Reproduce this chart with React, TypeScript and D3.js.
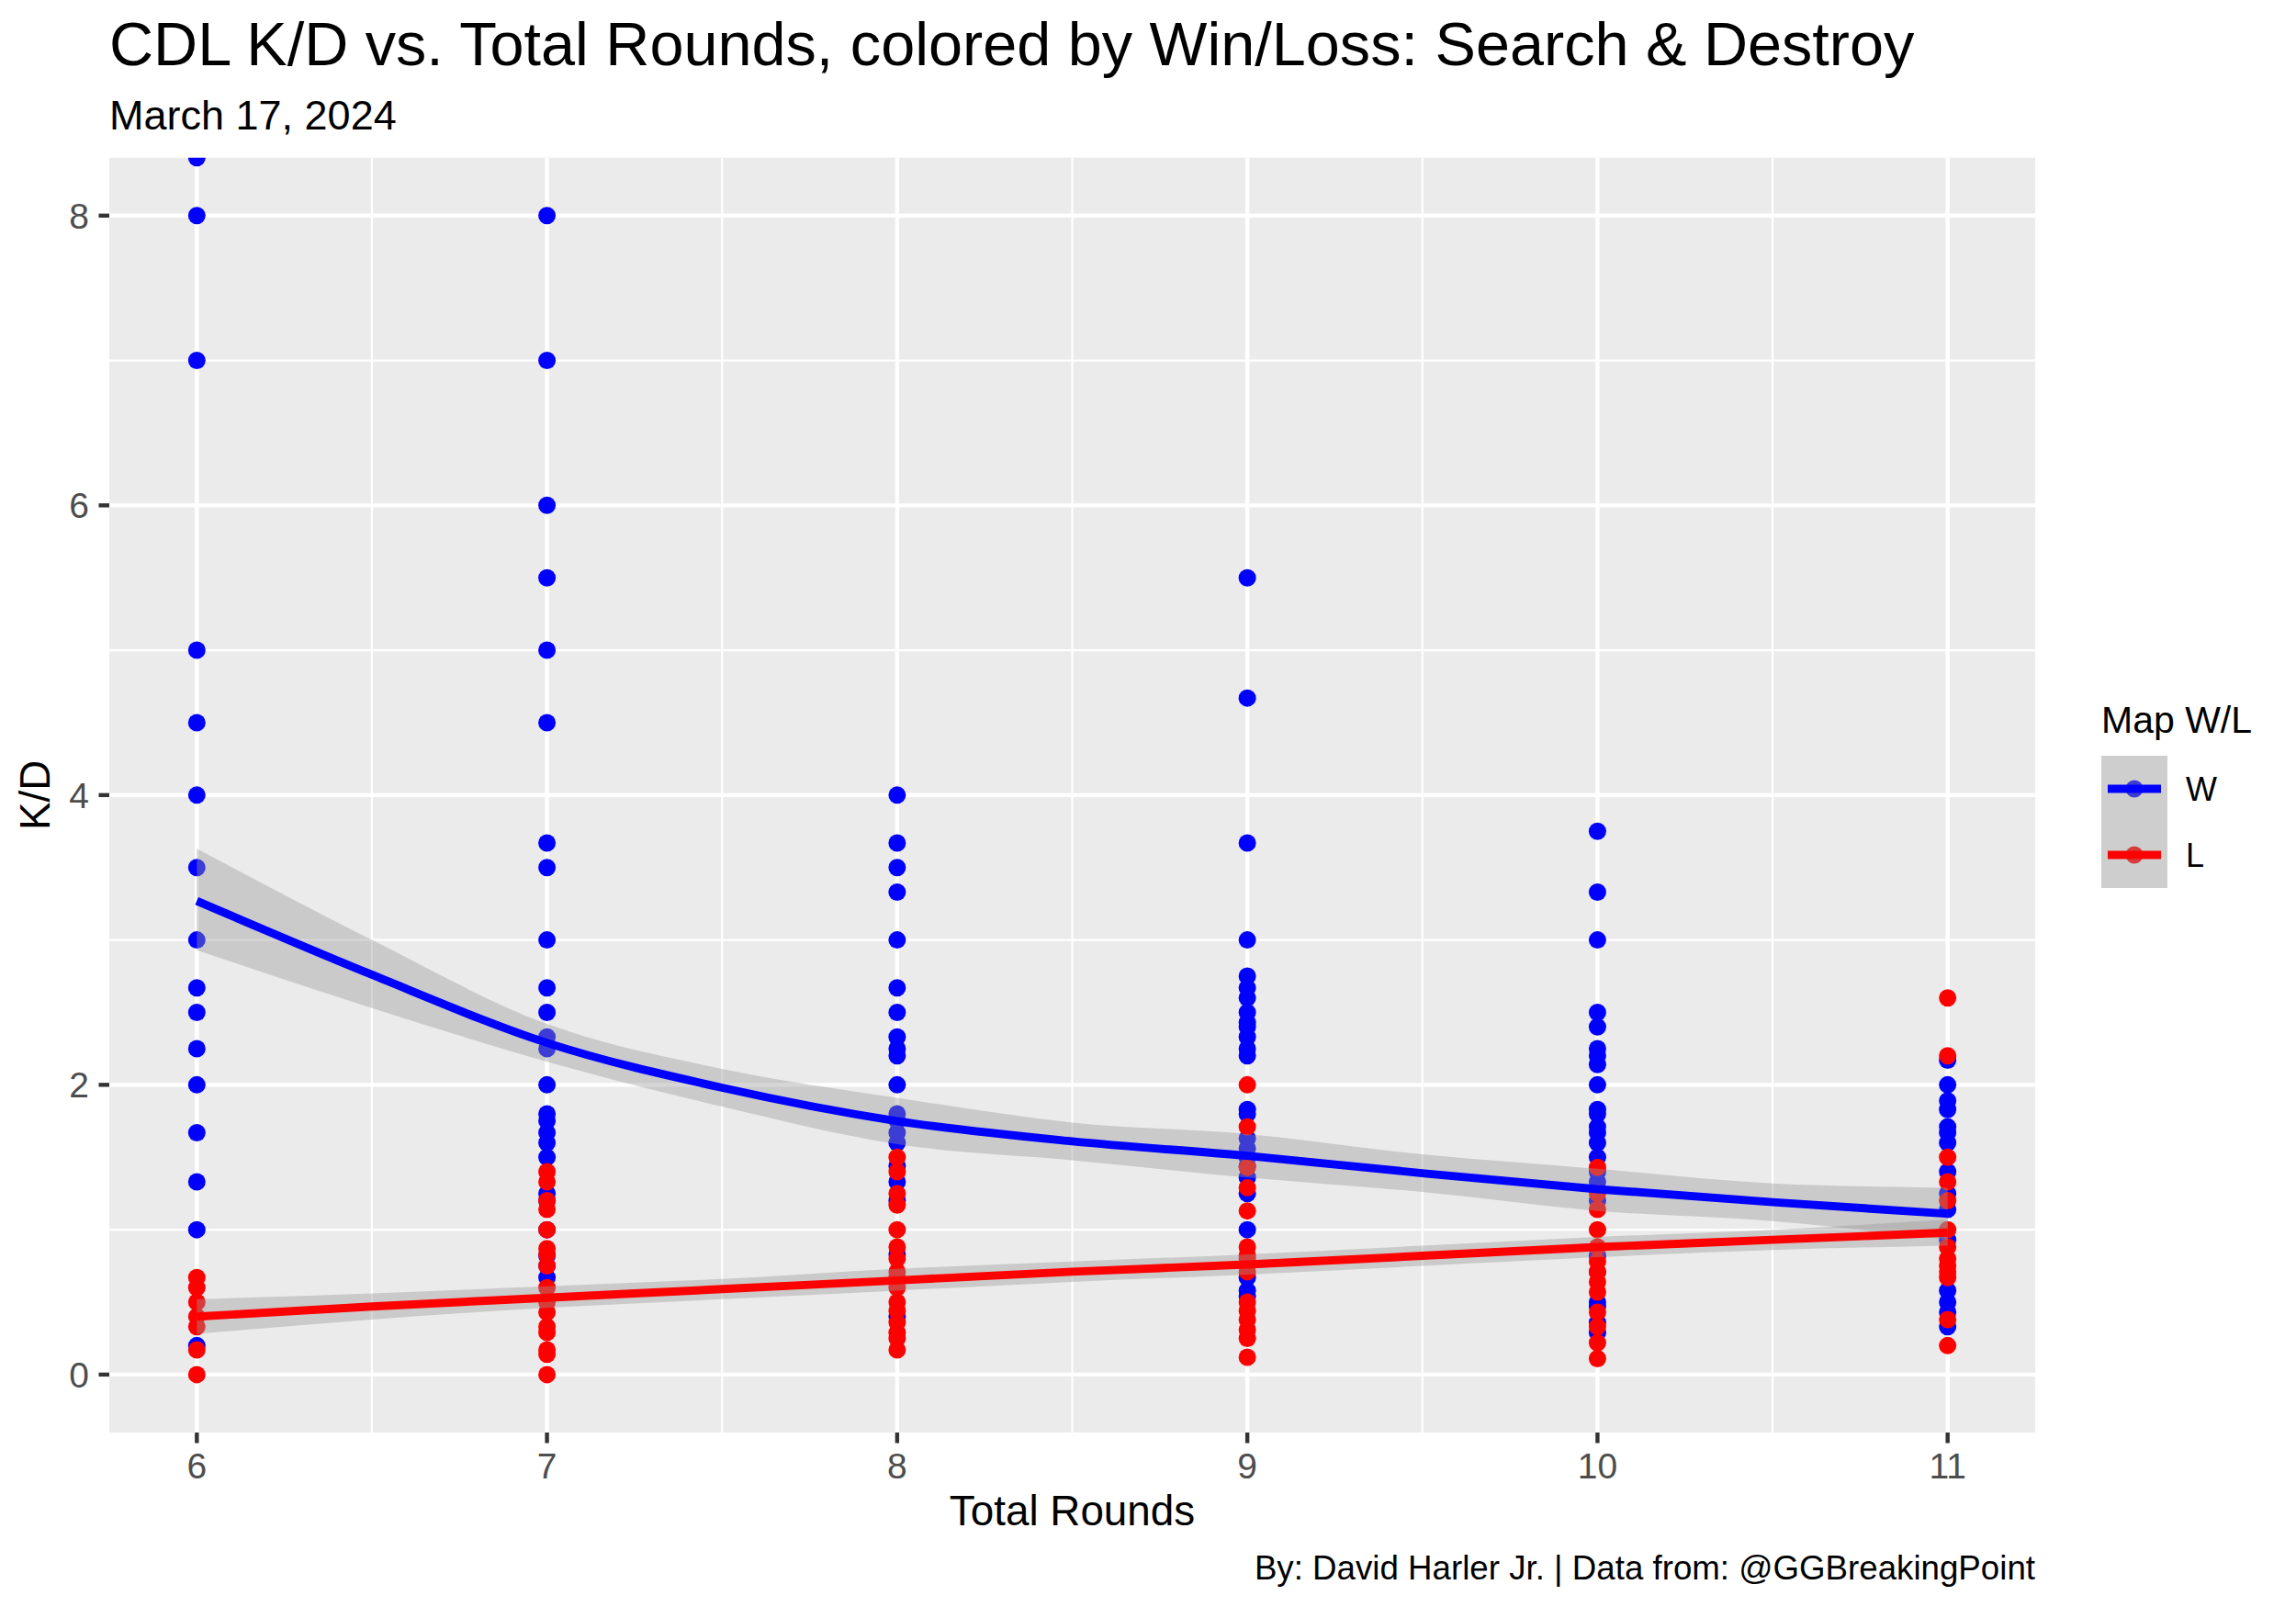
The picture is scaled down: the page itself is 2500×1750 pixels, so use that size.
import React from "react";
import * as d3 from "d3";

// ---------- DATA ----------
const ROUNDS = [6, 7, 8, 9, 10, 11];
const SERIES = ["W", "L"];
const SERIES_COLORS = ["#0000FF", "#FF0000"];

// K/D values of winning maps, per total-rounds column
const WIN_KD_6 = [8.4, 8, 7, 5, 4.5, 4, 3.5, 3, 2.67, 2.5, 2.25, 2, 1.67, 1.33, 1, 0.2];
const WIN_KD_7 = [8, 7, 6, 5.5, 5, 4.5, 3.67, 3.5, 3, 2.67, 2.5, 2.33, 2.25, 2, 1.8, 1.75, 1.67, 1.6, 1.5, 1.25, 1.2, 1.0, 0.82, 0.75, 0.67];
const WIN_KD_8 = [4, 3.67, 3.5, 3.33, 3, 2.67, 2.5, 2.33, 2.25, 2.2, 2, 1.8, 1.75, 1.67, 1.6, 1.44, 1.33, 1.2, 0.83, 0.4];
const WIN_KD_9 = [5.5, 4.67, 3.67, 3, 2.75, 2.67, 2.6, 2.5, 2.43, 2.4, 2.33, 2.25, 2.2, 1.83, 1.8, 1.63, 1.56, 1.5, 1.44, 1.36, 1.25, 1.0, 0.67, 0.58, 0.54];
const WIN_KD_10 = [3.75, 3.33, 3, 2.5, 2.4, 2.25, 2.2, 2.14, 2, 1.83, 1.8, 1.71, 1.67, 1.6, 1.5, 1.4, 1.33, 1.2, 0.82, 0.71, 0.5, 0.47, 0.36, 0.29];
const WIN_KD_11 = [2.17, 2, 1.89, 1.83, 1.71, 1.67, 1.6, 1.4, 1.25, 1.14, 0.93, 0.58, 0.5, 0.43, 0.33];

// K/D values of losing maps, per total-rounds column
const LOSS_KD_6 = [0.67, 0.6, 0.5, 0.4, 0.33, 0.17, 0];
const LOSS_KD_7 = [1.4, 1.33, 1.2, 1.14, 1.0, 0.87, 0.83, 0.75, 0.6, 0.5, 0.43, 0.33, 0.29, 0.17, 0.14, 0];
const LOSS_KD_8 = [1.5, 1.4, 1.25, 1.17, 1.0, 0.88, 0.8, 0.71, 0.67, 0.6, 0.5, 0.44, 0.36, 0.29, 0.25, 0.17];
const LOSS_KD_9 = [2, 1.71, 1.43, 1.29, 1.13, 0.88, 0.82, 0.8, 0.75, 0.71, 0.5, 0.44, 0.38, 0.31, 0.25, 0.12];
const LOSS_KD_10 = [1.43, 1.25, 1.14, 1.0, 0.88, 0.78, 0.71, 0.64, 0.57, 0.43, 0.33, 0.22, 0.11];
const LOSS_KD_11 = [2.6, 2.2, 1.5, 1.33, 1.2, 1.0, 0.88, 0.8, 0.75, 0.71, 0.67, 0.38, 0.2];

const WIN_KD = [WIN_KD_6, WIN_KD_7, WIN_KD_8, WIN_KD_9, WIN_KD_10, WIN_KD_11];
const LOSS_KD = [LOSS_KD_6, LOSS_KD_7, LOSS_KD_8, LOSS_KD_9, LOSS_KD_10, LOSS_KD_11];

// Smoothed fits (loess)
const FIT_X = [6, 6.5, 7, 7.5, 8, 8.5, 9, 9.5, 10, 10.5, 11];
const WIN_FIT = [3.27, 2.76, 2.29, 1.98, 1.75, 1.61, 1.51, 1.39, 1.28, 1.19, 1.11];
const WIN_UPPER = [3.63, 3.0, 2.42, 2.11, 1.91, 1.74, 1.66, 1.52, 1.42, 1.32, 1.29];
const WIN_LOWER = [2.93, 2.53, 2.16, 1.85, 1.59, 1.48, 1.36, 1.26, 1.13, 1.06, 0.93];
const LOSS_FIT = [0.4, 0.47, 0.53, 0.59, 0.65, 0.71, 0.76, 0.82, 0.88, 0.93, 0.98];
const LOSS_UPPER = [0.52, 0.56, 0.61, 0.66, 0.73, 0.78, 0.83, 0.89, 0.95, 1.0, 1.07];
const LOSS_LOWER = [0.28, 0.38, 0.46, 0.52, 0.58, 0.64, 0.69, 0.75, 0.81, 0.86, 0.89];

const X_TICKS = [6, 7, 8, 9, 10, 11];
const X_MINOR = [6.5, 7.5, 8.5, 9.5, 10.5];
const Y_TICKS = [0, 2, 4, 6, 8];
const Y_MINOR = [1, 3, 5, 7];

const TITLE = "CDL K/D vs. Total Rounds, colored by Win/Loss: Search & Destroy";
const SUBTITLE = "March 17, 2024";
const CAPTION = "By: David Harler Jr. | Data from: @GGBreakingPoint";
const X_TITLE = "Total Rounds";
const Y_TITLE = "K/D";
const LEGEND_TITLE = "Map W/L";

// ---------- LAYOUT ----------
const W = 2500;
const H = 1750;
const P = { left: 119, right: 2216, top: 171.7, bottom: 1560 };
const FONT = "'Liberation Sans', Arial, Helvetica, sans-serif";

export default function App() {
  const x = d3.scaleLinear().domain([5.75, 11.25]).range([P.left, P.right]);
  const y = d3.scaleLinear().domain([-0.4, 8.4]).range([P.bottom, P.top]);

  const fits = [
    { fit: WIN_FIT, up: WIN_UPPER, lo: WIN_LOWER, color: SERIES_COLORS[0] },
    { fit: LOSS_FIT, up: LOSS_UPPER, lo: LOSS_LOWER, color: SERIES_COLORS[1] },
  ];
  const idx = FIT_X.map((_, i) => i);
  const lineGen = (vals: number[]) =>
    d3
      .line<number>()
      .x((i) => x(FIT_X[i]))
      .y((i) => y(vals[i]))
      .curve(d3.curveMonotoneX)(idx) || "";
  const areaGen = (lo: number[], up: number[]) =>
    d3
      .area<number>()
      .x((i) => x(FIT_X[i]))
      .y0((i) => y(lo[i]))
      .y1((i) => y(up[i]))
      .curve(d3.curveMonotoneX)(idx) || "";

  const pointSets = [
    { data: WIN_KD, color: SERIES_COLORS[0] },
    { data: LOSS_KD, color: SERIES_COLORS[1] },
  ];

  const keyX = 2288;
  const keyY0 = 823;
  const keySize = 72;

  return (
    <svg
      width={W}
      height={H}
      style={{ position: "absolute", left: 0, top: 0 }}
      fontFamily={FONT}
    >
      <rect x={0} y={0} width={W} height={H} fill="#FFFFFF" />
      <defs>
        <clipPath id="panelClip">
          <rect x={P.left} y={P.top} width={P.right - P.left} height={P.bottom - P.top} />
        </clipPath>
      </defs>

      {/* Panel */}
      <rect x={P.left} y={P.top} width={P.right - P.left} height={P.bottom - P.top} fill="#EBEBEB" />
      {Y_MINOR.map((v) => (
        <line key={"ym" + v} x1={P.left} x2={P.right} y1={y(v)} y2={y(v)} stroke="#FFFFFF" strokeWidth={2.2} />
      ))}
      {X_MINOR.map((v) => (
        <line key={"xm" + v} x1={x(v)} x2={x(v)} y1={P.top} y2={P.bottom} stroke="#FFFFFF" strokeWidth={2.2} />
      ))}
      {Y_TICKS.map((v) => (
        <line key={"yM" + v} x1={P.left} x2={P.right} y1={y(v)} y2={y(v)} stroke="#FFFFFF" strokeWidth={4.4} />
      ))}
      {X_TICKS.map((v) => (
        <line key={"xM" + v} x1={x(v)} x2={x(v)} y1={P.top} y2={P.bottom} stroke="#FFFFFF" strokeWidth={4.4} />
      ))}

      <g clipPath="url(#panelClip)">
        {pointSets.map((s, si) =>
          s.data.map((col, ci) =>
            col.map((v, vi) => (
              <circle key={`p${si}-${ci}-${vi}`} cx={x(ROUNDS[ci])} cy={y(v)} r={9.5} fill={s.color} />
            ))
          )
        )}
        {fits.map((f, i) => (
          <path key={"rb" + i} d={areaGen(f.lo, f.up)} fill="#999999" fillOpacity={0.4} />
        ))}
        {fits.map((f, i) => (
          <path key={"ln" + i} d={lineGen(f.fit)} fill="none" stroke={f.color} strokeWidth={8.9} />
        ))}
      </g>

      {/* Axes */}
      {X_TICKS.map((v) => (
        <g key={"xt" + v}>
          <line x1={x(v)} x2={x(v)} y1={P.bottom} y2={P.bottom + 11.5} stroke="#333333" strokeWidth={4.4} />
          <text x={x(v)} y={1610} textAnchor="middle" fontSize={39} fill="#4D4D4D">
            {v}
          </text>
        </g>
      ))}
      {Y_TICKS.map((v) => (
        <g key={"yt" + v}>
          <line x1={P.left - 11.5} x2={P.left} y1={y(v)} y2={y(v)} stroke="#333333" strokeWidth={4.4} />
          <text x={97} y={y(v)} dy="0.36em" textAnchor="end" fontSize={39} fill="#4D4D4D">
            {v}
          </text>
        </g>
      ))}
      <text x={(P.left + P.right) / 2} y={1661} textAnchor="middle" fontSize={45.8} fill="#000000">
        {X_TITLE}
      </text>
      <text
        transform={`translate(54, ${(P.top + P.bottom) / 2}) rotate(-90)`}
        textAnchor="middle"
        fontSize={45.8}
        fill="#000000"
      >
        {Y_TITLE}
      </text>

      {/* Titles */}
      <text x={P.left} y={70.7} fontSize={66.6} fill="#000000">
        {TITLE}
      </text>
      <text x={P.left} y={140.7} fontSize={45} fill="#000000">
        {SUBTITLE}
      </text>
      <text x={P.right} y={1720} textAnchor="end" fontSize={36.7} fill="#000000">
        {CAPTION}
      </text>

      {/* Legend */}
      <text x={keyX} y={798} fontSize={41} fill="#000000">
        {LEGEND_TITLE}
      </text>
      {SERIES.map((s, i) => {
        const ky = keyY0 + i * keySize;
        const cy = ky + keySize / 2;
        return (
          <g key={"lg" + s}>
            <rect x={keyX} y={ky} width={keySize} height={keySize} fill="#F2F2F2" />
            <circle cx={keyX + keySize / 2} cy={cy} r={9.5} fill={SERIES_COLORS[i]} />
            <rect x={keyX} y={ky} width={keySize} height={keySize} fill="#999999" fillOpacity={0.4} />
            <line x1={keyX + 7} x2={keyX + keySize - 7} y1={cy} y2={cy} stroke={SERIES_COLORS[i]} strokeWidth={8.9} />
            <text x={2380} y={cy} dy="0.36em" fontSize={36} fill="#000000">
              {s}
            </text>
          </g>
        );
      })}
    </svg>
  );
}
